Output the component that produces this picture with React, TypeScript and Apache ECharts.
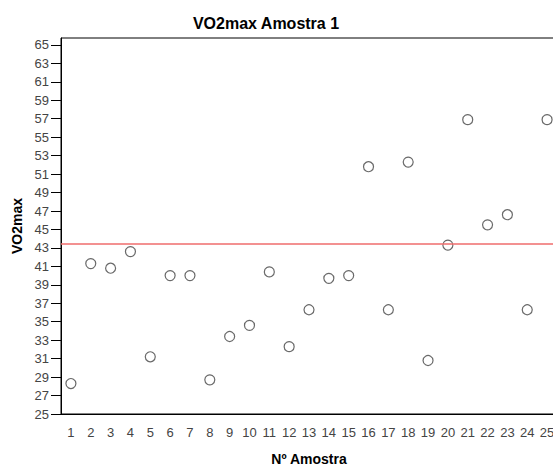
import React, { useEffect, useRef } from "react";
import * as echarts from "echarts";

const categories = ["1","2","3","4","5","6","7","8","9","10","11","12","13","14","15","16","17","18","19","20","21","22","23","24","25"];
const vo2max = [28.3, 41.3, 40.8, 42.6, 31.2, 40.0, 40.0, 28.7, 33.4, 34.6, 40.4, 32.3, 36.3, 39.7, 40.0, 51.8, 36.3, 52.3, 30.8, 43.3, 56.9, 45.5, 46.6, 36.3, 56.9];
const yTicks = [25, 27, 29, 31, 33, 35, 37, 39, 41, 43, 45, 47, 49, 51, 53, 55, 57, 59, 61, 63, 65];
const referenceLine = 43.5;

const FONT = "'Liberation Sans', Arial, sans-serif";

export default function App() {
  const ref = useRef<HTMLDivElement>(null);
  useEffect(() => {
    if (!ref.current) return;
    const chart = echarts.init(ref.current, null, { renderer: "svg" });
    chart.setOption({
      animation: false,
      backgroundColor: "#ffffff",
      title: {
        text: "VO2max Amostra 1",
        left: 261,
        top: 10,
        textAlign: "center",
        textStyle: { fontFamily: FONT, fontSize: 16, fontWeight: "bold", color: "#000" },
      },
      grid: {
        left: 61,
        right: 3,
        top: 38,
        bottom: 52,
        outerBoundsMode: "none",
        containLabel: false,
        show: true,
        borderColor: "#000",
        borderWidth: 1,
        backgroundColor: "transparent",
      },
      xAxis: {
        type: "category",
        data: categories,
        boundaryGap: true,
        name: "Nº Amostra",
        nameLocation: "middle",
        nameGap: 38,
        nameTextStyle: { fontFamily: FONT, fontSize: 14, fontWeight: "bold", color: "#000" },
        axisLine: { lineStyle: { color: "#000", width: 1 } },
        axisTick: { alignWithLabel: true, length: 9, lineStyle: { color: "#000" } },
        axisLabel: { fontFamily: FONT, fontSize: 13, color: "#444", margin: 12, interval: 0 },
        splitLine: { show: false },
      },
      yAxis: {
        type: "value",
        min: 25,
        max: 65.75,
        name: "VO2max",
        nameLocation: "middle",
        nameGap: 33,
        nameRotate: 90,
        nameTextStyle: { fontFamily: FONT, fontSize: 14, fontWeight: "bold", color: "#000" },
        axisLine: { show: true, lineStyle: { color: "#000", width: 1 } },
        axisTick: { show: true, length: 10, lineStyle: { color: "#000" }, customValues: yTicks },
        axisLabel: { fontFamily: FONT, fontSize: 13, color: "#444", margin: 12, customValues: yTicks },
        splitLine: { show: false },
      },
      series: [
        {
          type: "scatter",
          data: vo2max,
          symbol: "circle",
          symbolSize: 10,
          itemStyle: { color: "rgba(0,0,0,0)", borderColor: "#444", borderWidth: 1.2 },
          markLine: {
            silent: true,
            symbol: ["none", "none"],
            label: { show: false },
            lineStyle: { color: "#ef6d6d", width: 1.5, type: "solid" },
            data: [{ yAxis: referenceLine }],
          },
        },
      ],
    });
    return () => chart.dispose();
  }, []);
  return (
    <div style={{ position: "fixed", left: 0, top: 0, width: 553, height: 466, overflow: "hidden" }}>
      <div ref={ref} style={{ width: 560, height: 466 }} />
    </div>
  );
}
